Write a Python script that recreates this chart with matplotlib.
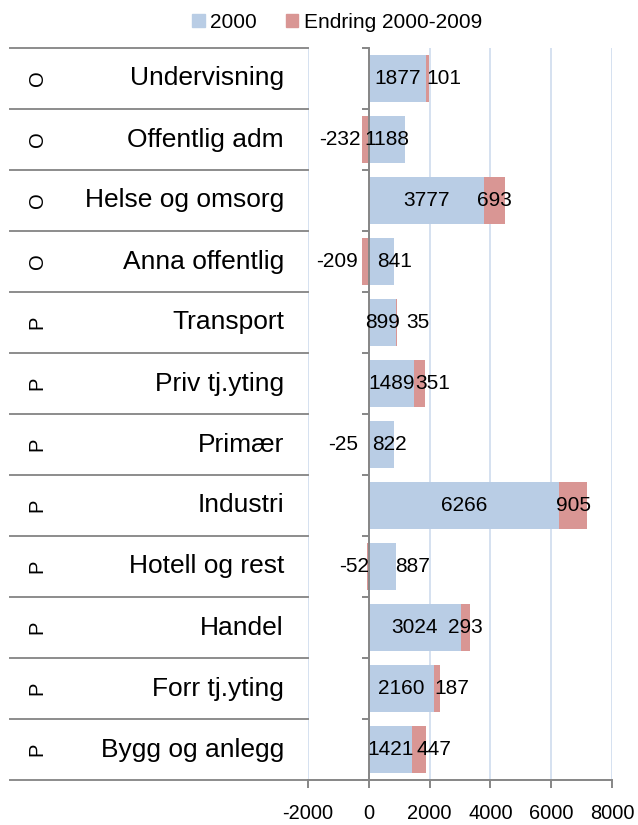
import numpy as np
import matplotlib
matplotlib.use('Agg')
import matplotlib.pyplot as plt
from matplotlib.patches import Patch

plt.rcParams['font.family'] = ['Liberation Sans', 'DejaVu Sans']
plt.rcParams['axes.unicode_minus'] = False

# data
categories = ['Undervisning', 'Offentlig adm', 'Helse og omsorg', 'Anna offentlig',
              'Transport', 'Priv tj.yting', 'Primær', 'Industri', 'Hotell og rest',
              'Handel', 'Forr tj.yting', 'Bygg og anlegg']
sector = ['O', 'O', 'O', 'O', 'P', 'P', 'P', 'P', 'P', 'P', 'P', 'P']
v2000 = [1877, 1188, 3777, 841, 899, 1489, 822, 6266, 887, 3024, 2160, 1421]
change = [101, -232, 693, -209, 35, 351, -25, 905, -52, 293, 187, 447]
xticks = [-2000, 0, 2000, 4000, 6000, 8000]

# label nudges in pixels (labels were dragged around in the original)
nudge_blue = [0, 0, 0, 13, 0, 0, 8, 0, 30, 0, 0, 0]
nudge_red = [16, -25, 0, -29, 21, 13, -25, 0, -14, 0, 15, 15]

blue = '#B9CDE5'
red = '#D99694'
grid_c = '#D5E1F0'
axis_c = '#868686'

W, H = 638, 825
fig = plt.figure(figsize=(W / 100, H / 100), dpi=100)
x0, x1, y0, y1 = 308, 612, 48, 780
ax = fig.add_axes([x0 / W, 1 - y1 / H, (x1 - x0) / W, (y1 - y0) / H])

n = len(categories)
y = np.arange(n)
v2000 = np.array(v2000)
change = np.array(change)
left_chg = np.where(change > 0, v2000, 0)

ax.barh(y, v2000, height=0.77, color=blue, zorder=2)
ax.barh(y, change, left=left_chg, height=0.77, color=red, zorder=2)

ax.set_xlim(-2000, 8000)
ax.set_ylim(n - 0.5, -0.5)
ax.set_xticks(xticks)
ax.set_xticklabels([str(t) for t in xticks], fontsize=14.4)
ax.set_yticks(np.arange(n + 1) - 0.5)
ax.set_yticklabels([])
for t in xticks:
    ax.axvline(t, color=grid_c, lw=1.4, zorder=0)

for s in ['top', 'right']:
    ax.spines[s].set_visible(False)
ax.spines['left'].set_position(('data', 0))
ax.spines['left'].set_color(axis_c)
ax.spines['bottom'].set_color(axis_c)
ax.spines['left'].set_linewidth(1.4)
ax.spines['bottom'].set_linewidth(1.4)
ax.spines['left'].set_zorder(3)
ax.tick_params(axis='y', direction='out', length=5, width=1.4, color=axis_c)
ax.tick_params(axis='x', direction='out', length=6, width=1.4, color=axis_c, pad=11)

# data labels
for i in range(n):
    ax.annotate(str(v2000[i]), (v2000[i] / 2, i), xytext=(nudge_blue[i], 0),
                textcoords='offset pixels', ha='center', va='center', fontsize=15, zorder=4)
    cx = left_chg[i] + change[i] / 2
    ax.annotate(str(change[i]), (cx, i), xytext=(nudge_red[i], 0),
                textcoords='offset pixels', ha='center', va='center', fontsize=15, zorder=4)

# category table on the left
tr = ax.get_yaxis_transform()
xa = lambda px: (px - x0) / (x1 - x0)
for b in np.arange(n + 1) - 0.5:
    ax.plot([xa(10), 0], [b, b], color='#8C8C8C', lw=1.4, transform=tr, clip_on=False)
for i in range(n):
    ax.text(xa(284), i, categories[i], transform=tr, ha='right', va='center', fontsize=19)
    ax.text(xa(37), i, sector[i], transform=tr, ha='center', va='center',
            fontsize=14.5, rotation=90)

handles = [Patch(color=blue), Patch(color=red)]
fig.legend(handles, ['2000', 'Endring 2000-2009'], loc='center',
           bbox_to_anchor=(337 / W, 1 - 22 / H), ncol=2, frameon=False, fontsize=15,
           handlelength=0.6, handleheight=0.6, handletextpad=0.25, columnspacing=1.4)

fig.savefig('out.png', dpi=100)
